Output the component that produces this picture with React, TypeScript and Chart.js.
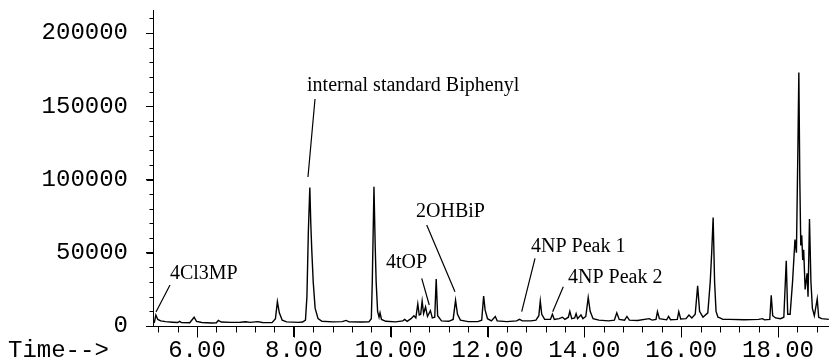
import React, { useEffect, useRef } from "react";
import { Chart, registerables } from "chart.js";

Chart.register(...registerables);

// Retention time (min) and abundance of the total-ion trace
const retentionTimes = [
  5.1, 5.12, 5.15, 5.19, 5.25, 5.35, 5.5, 5.6, 5.64, 5.68, 5.85, 5.94, 5.99, 6.1, 6.3, 6.4, 6.44, 6.5, 6.7, 6.9,
  7.0, 7.1, 7.25, 7.35, 7.55, 7.62, 7.66, 7.7, 7.76, 7.85, 8.1, 8.18, 8.24, 8.27, 8.3, 8.33, 8.35, 8.37, 8.4, 8.44,
  8.5, 8.58, 8.8, 9.0, 9.08, 9.14, 9.4, 9.55, 9.6, 9.62, 9.655, 9.68, 9.7, 9.73, 9.76, 9.78, 9.81, 9.9, 10.1, 10.25,
  10.29, 10.34, 10.42, 10.48, 10.52, 10.56, 10.59, 10.62, 10.65, 10.68, 10.72, 10.76, 10.82, 10.86, 10.91, 10.94, 10.97, 11.05, 11.2, 11.29,
  11.34, 11.38, 11.44, 11.6, 11.8, 11.88, 11.92, 11.95, 12.0, 12.08, 12.16, 12.2, 12.4, 12.6, 12.66, 12.72, 12.9, 13.0, 13.06, 13.09,
  13.12, 13.18, 13.3, 13.34, 13.38, 13.48, 13.55, 13.6, 13.67, 13.7, 13.74, 13.8, 13.83, 13.86, 13.93, 13.97, 14.03, 14.08, 14.12, 14.18,
  14.3, 14.5, 14.62, 14.67, 14.72, 14.83, 14.88, 14.93, 15.1, 15.34, 15.4, 15.48, 15.51, 15.55, 15.7, 15.74, 15.78, 15.92, 15.95, 15.99,
  16.1, 16.16, 16.22, 16.29, 16.34, 16.38, 16.45, 16.55, 16.6, 16.63, 16.66, 16.69, 16.72, 16.76, 16.8, 16.86, 17.0, 17.3, 17.6, 17.68,
  17.72, 17.83, 17.86, 17.89, 17.95, 18.05, 18.12, 18.17, 18.2, 18.25, 18.3, 18.35, 18.38, 18.41, 18.43, 18.45, 18.47, 18.49, 18.51, 18.53,
  18.56, 18.6, 18.62, 18.65, 18.68, 18.71, 18.75, 18.81, 18.84, 18.9, 19.05,
];
const abundance = [
  2000, 2600, 7500, 4500, 3500, 3000, 2600, 2400, 3200, 2300, 2200, 6000, 3200, 2400, 2000, 2200, 3800, 2700, 2500, 2600,
  2900, 2500, 3000, 2400, 2300, 5000, 16600, 9000, 4000, 2800, 2500, 2700, 4000, 20000, 65000, 94500, 70000, 52000, 30000, 12000,
  5000, 3200, 2800, 3000, 3800, 2800, 2700, 2800, 5000, 30000, 95000, 55000, 30000, 10000, 6000, 9000, 4500, 3200, 2800, 3500,
  4500, 3200, 5000, 7000, 5500, 15000, 7500, 8000, 17000, 8500, 13000, 6500, 10500, 5500, 6000, 32000, 7000, 3500, 3200, 4500,
  17500, 8000, 4000, 3000, 3000, 4000, 20500, 11000, 5000, 3500, 6500, 3500, 3000, 3500, 4500, 3500, 3500, 4000, 7000, 17000,
  8000, 4500, 4500, 8000, 4500, 5000, 6000, 4500, 6000, 10000, 5000, 5500, 8500, 5000, 7500, 5000, 6500, 19500, 10000, 5000,
  4000, 3500, 4000, 9000, 4500, 4000, 6500, 4000, 3800, 5000, 4000, 4500, 9800, 5000, 4200, 6500, 4300, 4500, 9800, 4800,
  5000, 7500, 5500, 8000, 27500, 10000, 6000, 9000, 30000, 50000, 74000, 30000, 10000, 6000, 5500, 4500, 4500, 4300, 4500, 5000,
  4200, 4500, 21000, 7000, 5500, 5000, 6000, 44500, 8000, 8000, 30000, 59000, 50000, 120000, 173000, 100000, 55000, 62000, 45000, 52000,
  25000, 36000, 20000, 73000, 30000, 12000, 7000, 18500, 6000, 5000, 4500,
];

const xTickValues = [6, 8, 10, 12, 14, 16, 18];
const yTickValues = [0, 50000, 100000, 150000, 200000];
const axisCaption = "Time-->";

// Peak annotations: label text, label anchor (time, abundance), leader line start and end
const peakLabels = ["4Cl3MP", "internal standard Biphenyl", "4tOP", "2OHBiP", "4NP Peak 1", "4NP Peak 2"];
const labelTimes = [5.44, 8.272, 9.903, 10.523, 12.898, 13.662];
const labelAbundances = [32080, 160400, 39600, 74400, 50510, 29350];
const leaderStartTimes = [5.442, 8.437, 10.641, 10.744, 12.981, 13.565];
const leaderStartAbundances = [27990, 154950, 32560, 68940, 46210, 26830];
const leaderEndTimes = [5.153, 8.292, 10.797, 11.328, 12.706, 13.346];
const leaderEndAbundances = [9560, 101700, 14330, 23410, 9760, 9760];

const X_MIN = 5.091;
const X_MAX = 19.053;
const Y_MAX = 215700;
const MONO = '"Liberation Mono", "DejaVu Sans Mono", monospace';
const SERIF = '"Liberation Serif", "DejaVu Serif", serif';

const overlayPlugin = {
  id: "overlay",
  afterDraw(chart: any) {
    const ctx = chart.ctx;
    const xs = chart.scales.x;
    const ys = chart.scales.y;
    const area = chart.chartArea;
    ctx.save();
    ctx.strokeStyle = "#000";
    ctx.lineWidth = 1;
    const L = Math.round(area.left) + 0.5;
    const B = Math.round(area.bottom) + 0.5;
    ctx.beginPath();
    // axis lines
    ctx.moveTo(L, Math.round(area.top));
    ctx.lineTo(L, B);
    ctx.moveTo(L - 7, B);
    ctx.lineTo(Math.round(area.right), B);
    // y ticks
    for (let v = 0; v <= Y_MAX; v += 10000) {
      const y = Math.round(ys.getPixelForValue(v)) + 0.5;
      const len = v % 50000 === 0 ? 7 : 4;
      ctx.moveTo(L - len, y);
      ctx.lineTo(L, y);
    }
    // x ticks
    for (let i = 0; ; i++) {
      const t = 5.2 + i * 0.4;
      if (t > X_MAX) break;
      const major = Math.abs(t / 2 - Math.round(t / 2)) < 1e-6;
      const x = Math.round(xs.getPixelForValue(t)) + 0.5;
      ctx.moveTo(x, B);
      ctx.lineTo(x, B + (major ? 11 : 6));
    }
    ctx.stroke();

    // leader lines
    ctx.lineWidth = 1.2;
    ctx.beginPath();
    for (let i = 0; i < peakLabels.length; i++) {
      ctx.moveTo(xs.getPixelForValue(leaderStartTimes[i]), ys.getPixelForValue(leaderStartAbundances[i]));
      ctx.lineTo(xs.getPixelForValue(leaderEndTimes[i]), ys.getPixelForValue(leaderEndAbundances[i]));
    }
    ctx.stroke();

    // labels
    ctx.fillStyle = "#000";
    ctx.font = `20px ${SERIF}`;
    ctx.textAlign = "left";
    ctx.textBaseline = "alphabetic";
    for (let i = 0; i < peakLabels.length; i++) {
      ctx.fillText(peakLabels[i], xs.getPixelForValue(labelTimes[i]), ys.getPixelForValue(labelAbundances[i]));
    }

    // axis caption
    ctx.font = `24px ${MONO}`;
    ctx.textBaseline = "middle";
    ctx.fillText(axisCaption, 8, area.bottom + 25);
    ctx.restore();
  },
};

export default function App() {
  const canvasRef = useRef<HTMLCanvasElement | null>(null);

  useEffect(() => {
    if (!canvasRef.current) return;
    const points = retentionTimes.map((t, i) => ({ x: t, y: abundance[i] }));
    const chart = new Chart(canvasRef.current, {
      type: "line",
      data: {
        datasets: [
          {
            data: points,
            borderColor: "#000",
            borderWidth: 1.4,
            pointRadius: 0,
            tension: 0,
            fill: false,
          },
        ],
      },
      options: {
        animation: false,
        responsive: false,
        maintainAspectRatio: false,
        layout: { padding: { top: 10, left: 0, right: 0, bottom: 0 } },
        plugins: { legend: { display: false }, tooltip: { enabled: false }, title: { display: false } },
        scales: {
          x: {
            type: "linear",
            min: X_MIN,
            max: X_MAX,
            afterBuildTicks: (scale: any) => {
              scale.ticks = xTickValues.map((v) => ({ value: v }));
            },
            afterFit: (scale: any) => {
              scale.height = 36;
              scale.paddingLeft = 0;
              scale.paddingRight = 0;
            },
            grid: { drawOnChartArea: false, drawTicks: true, tickLength: 11, tickColor: "#000", color: "#000" },
            border: { display: false },
            ticks: {
              color: "#000",
              font: { family: MONO, size: 24 },
              padding: -1,
              maxRotation: 0,
              autoSkip: false,
              callback: (v: any) => Number(v).toFixed(2),
            },
          },
          y: {
            type: "linear",
            min: 0,
            max: Y_MAX,
            afterBuildTicks: (scale: any) => {
              scale.ticks = yTickValues.map((v) => ({ value: v }));
            },
            afterFit: (scale: any) => {
              scale.width = 153;
              scale.paddingTop = 0;
              scale.paddingBottom = 0;
            },
            grid: { drawOnChartArea: false, drawTicks: true, tickLength: 7, tickColor: "#000", color: "#000" },
            border: { display: false },
            ticks: {
              color: "#000",
              font: { family: MONO, size: 24 },
              padding: 18,
              autoSkip: false,
              callback: (v: any) => String(v),
            },
          },
        },
      },
      plugins: [overlayPlugin],
    });
    return () => chart.destroy();
  }, []);

  return (
    <div style={{ position: "absolute", left: 0, top: 0, width: 829, height: 362, background: "#fff" }}>
      <canvas ref={canvasRef} width={829} height={362} style={{ display: "block", width: 829, height: 362 }} />
    </div>
  );
}
